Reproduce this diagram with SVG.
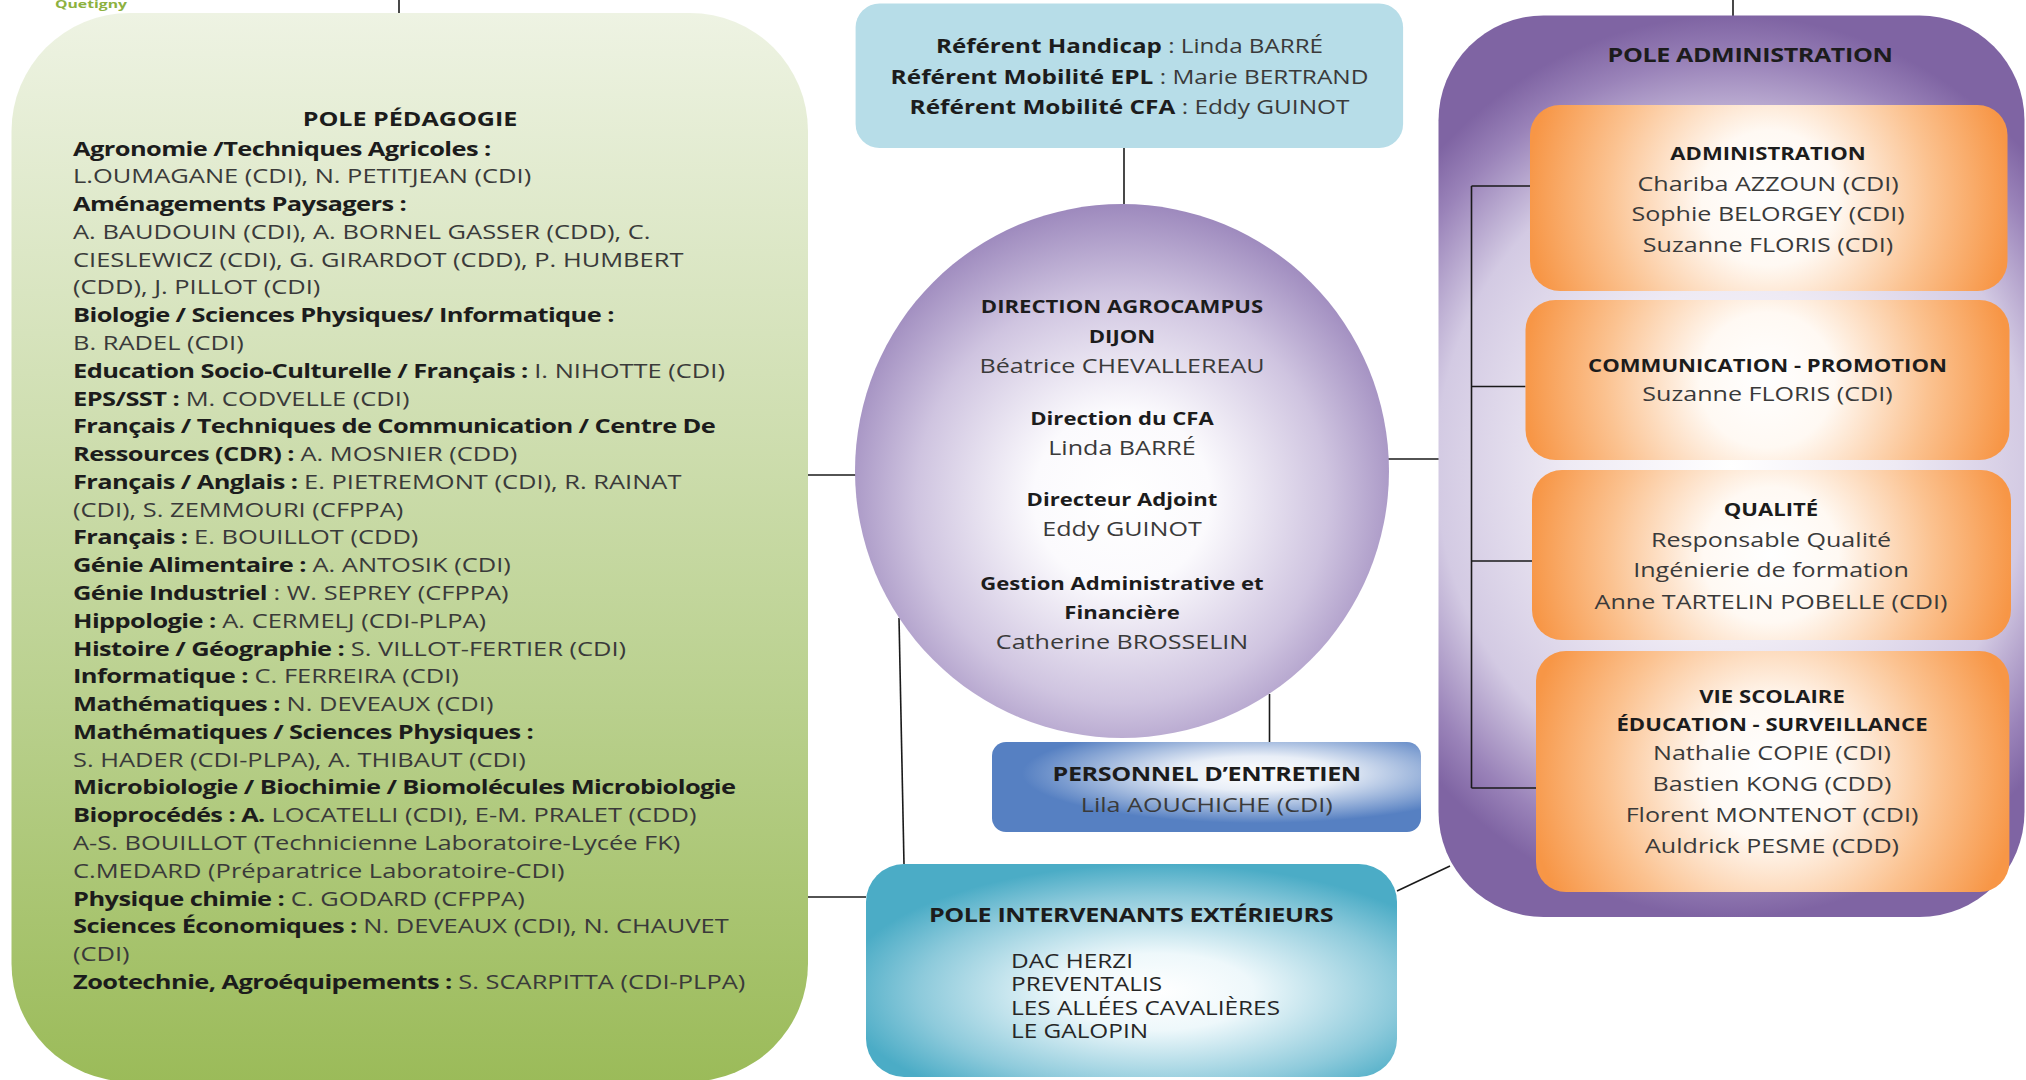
<svg xmlns="http://www.w3.org/2000/svg" width="2026" height="1080" viewBox="0 0 2026 1080">
<style>
.t{font-family:"Open Sans","Liberation Sans",sans-serif;font-size:19.3px;fill:#3a3a3a}
.b{font-weight:bold;fill:#1c1c1c}
.pb{letter-spacing:-0.45px}
.tt{letter-spacing:-0.3px}
.s{font-size:17px}
.c{text-anchor:middle}
.ln{stroke:#1a1a1a;stroke-width:1.6;fill:none}
</style>
<defs>
<linearGradient id="gGreen" x1="0" y1="0" x2="0" y2="1">
<stop offset="0" stop-color="#EEF3E3"/>
<stop offset="0.3" stop-color="#D6E3BC"/>
<stop offset="0.65" stop-color="#B9D08D"/>
<stop offset="1" stop-color="#9BBB59"/>
</linearGradient>
<radialGradient id="gCircle" cx="0.5" cy="0.55" r="0.55">
<stop offset="0" stop-color="#FFFFFF"/>
<stop offset="0.3" stop-color="#FBFAFD"/>
<stop offset="0.7" stop-color="#CFC4E0"/>
<stop offset="1" stop-color="#9D89BD"/>
</radialGradient>
<radialGradient id="gPurple" cx="0.5" cy="0.5" r="0.5" gradientTransform="translate(0.5,0.5) scale(1.4,1) translate(-0.5,-0.5)">
<stop offset="0" stop-color="#FFFFFF"/>
<stop offset="0.4" stop-color="#EEEAF4"/>
<stop offset="0.72" stop-color="#D3CAE3"/>
<stop offset="0.9" stop-color="#9A83B9"/>
<stop offset="1" stop-color="#7F64A3"/>
</radialGradient>
<radialGradient id="gTeal" cx="0.55" cy="0.6" r="0.6">
<stop offset="0" stop-color="#FFFFFF"/>
<stop offset="0.3" stop-color="#EEF8FB"/>
<stop offset="0.75" stop-color="#8DCADB"/>
<stop offset="1" stop-color="#4BACC6"/>
</radialGradient>
<radialGradient id="gBlue" cx="0.62" cy="0.35" r="0.55">
<stop offset="0" stop-color="#FFFFFF"/>
<stop offset="0.35" stop-color="#E8EEF7"/>
<stop offset="1" stop-color="#5680C2"/>
</radialGradient>
<radialGradient id="gO1" gradientUnits="userSpaceOnUse" cx="1769" cy="198" r="270">
<stop offset="0" stop-color="#FFFFFF"/><stop offset="0.25" stop-color="#FFF9F3"/><stop offset="0.6" stop-color="#FBC290"/><stop offset="0.9" stop-color="#F79646"/>
</radialGradient>
<radialGradient id="gO2" gradientUnits="userSpaceOnUse" cx="1767" cy="380" r="270">
<stop offset="0" stop-color="#FFFFFF"/><stop offset="0.25" stop-color="#FFF9F3"/><stop offset="0.6" stop-color="#FBC290"/><stop offset="0.9" stop-color="#F79646"/>
</radialGradient>
<radialGradient id="gO3" gradientUnits="userSpaceOnUse" cx="1771" cy="555" r="270">
<stop offset="0" stop-color="#FFFFFF"/><stop offset="0.25" stop-color="#FFF9F3"/><stop offset="0.6" stop-color="#FBC290"/><stop offset="0.9" stop-color="#F79646"/>
</radialGradient>
<radialGradient id="gO4" gradientUnits="userSpaceOnUse" cx="1772" cy="771" r="275">
<stop offset="0" stop-color="#FFFFFF"/><stop offset="0.25" stop-color="#FFF9F3"/><stop offset="0.6" stop-color="#FBC290"/><stop offset="0.9" stop-color="#F79646"/>
</radialGradient>
</defs>
<rect width="2026" height="1080" fill="#FFFFFF"/>

<g id="logo">
<text class="t b" transform="translate(55,8) scale(1.5,1)" style="font-size:10.5px;fill:#8DB13F">Quetigny</text>
</g>

<g id="connectors">
<path class="ln" d="M399,0 V15"/>
<path class="ln" d="M1733,0 V16"/>
<path class="ln" d="M1124,148 V204"/>
<path class="ln" d="M808,475 H856"/>
<path class="ln" d="M1388,459 H1439"/>
<path class="ln" d="M899,618 L904,864"/>
<path class="ln" d="M1269.5,694 V742"/>
<path class="ln" d="M808,897 H866"/>
<path class="ln" d="M1397,891 L1450,866"/>
</g>

<g id="pole-pedagogie">
<rect x="11.5" y="13" width="796.5" height="1068.5" rx="118" fill="url(#gGreen)"/>
<text class="t b c" transform="translate(410,126) scale(1.3,1)">POLE PÉDAGOGIE</text>
<text class="t b pb" transform="translate(73,155.5) scale(1.32,1)">Agronomie /Techniques Agricoles :</text>
<text class="t" transform="translate(73,183.3) scale(1.32,1)">L.OUMAGANE (CDI), N. PETITJEAN (CDI)</text>
<text class="t b pb" transform="translate(73,211.1) scale(1.32,1)">Aménagements Paysagers :</text>
<text class="t" transform="translate(73,238.8) scale(1.32,1)">A. BAUDOUIN (CDI), A. BORNEL GASSER (CDD), C.</text>
<text class="t" transform="translate(73,266.6) scale(1.32,1)">CIESLEWICZ (CDI), G. GIRARDOT (CDD), P. HUMBERT</text>
<text class="t" transform="translate(73,294.4) scale(1.32,1)">(CDD), J. PILLOT (CDI)</text>
<text class="t b pb" transform="translate(73,322.2) scale(1.32,1)">Biologie / Sciences Physiques/ Informatique :</text>
<text class="t" transform="translate(73,349.9) scale(1.32,1)">B. RADEL (CDI)</text>
<text class="t" transform="translate(73,377.7) scale(1.32,1)"><tspan class="b pb">Education Socio-Culturelle / Français :</tspan> I. NIHOTTE (CDI)</text>
<text class="t" transform="translate(73,405.5) scale(1.32,1)"><tspan class="b pb">EPS/SST :</tspan> M. CODVELLE (CDI)</text>
<text class="t b pb" transform="translate(73,433.3) scale(1.32,1)">Français / Techniques de Communication / Centre De</text>
<text class="t" transform="translate(73,461.1) scale(1.32,1)"><tspan class="b pb">Ressources (CDR) :</tspan> A. MOSNIER (CDD)</text>
<text class="t" transform="translate(73,488.9) scale(1.32,1)"><tspan class="b pb">Français / Anglais :</tspan> E. PIETREMONT (CDI), R. RAINAT</text>
<text class="t" transform="translate(73,516.6) scale(1.32,1)">(CDI), S. ZEMMOURI (CFPPA)</text>
<text class="t" transform="translate(73,544.4) scale(1.32,1)"><tspan class="b pb">Français :</tspan> E. BOUILLOT (CDD)</text>
<text class="t" transform="translate(73,572.2) scale(1.32,1)"><tspan class="b pb">Génie Alimentaire :</tspan> A. ANTOSIK (CDI)</text>
<text class="t" transform="translate(73,600) scale(1.32,1)"><tspan class="b pb">Génie Industriel</tspan> : W. SEPREY (CFPPA)</text>
<text class="t" transform="translate(73,627.8) scale(1.32,1)"><tspan class="b pb">Hippologie :</tspan> A. CERMELJ (CDI-PLPA)</text>
<text class="t" transform="translate(73,655.5) scale(1.32,1)"><tspan class="b pb">Histoire / Géographie :</tspan> S. VILLOT-FERTIER (CDI)</text>
<text class="t" transform="translate(73,683.3) scale(1.32,1)"><tspan class="b pb">Informatique :</tspan> C. FERREIRA (CDI)</text>
<text class="t" transform="translate(73,711.1) scale(1.32,1)"><tspan class="b pb">Mathématiques :</tspan> N. DEVEAUX (CDI)</text>
<text class="t b pb" transform="translate(73,738.9) scale(1.32,1)">Mathématiques / Sciences Physiques :</text>
<text class="t" transform="translate(73,766.7) scale(1.32,1)">S. HADER (CDI-PLPA), A. THIBAUT (CDI)</text>
<text class="t b pb" transform="translate(73,794.4) scale(1.32,1)">Microbiologie / Biochimie / Biomolécules Microbiologie</text>
<text class="t" transform="translate(73,822.2) scale(1.32,1)"><tspan class="b pb">Bioprocédés : A.</tspan> LOCATELLI (CDI), E-M. PRALET (CDD)</text>
<text class="t" transform="translate(73,850) scale(1.32,1)">A-S. BOUILLOT (Technicienne Laboratoire-Lycée FK)</text>
<text class="t" transform="translate(73,877.8) scale(1.32,1)">C.MEDARD (Préparatrice Laboratoire-CDI)</text>
<text class="t" transform="translate(73,905.6) scale(1.32,1)"><tspan class="b pb">Physique chimie :</tspan> C. GODARD (CFPPA)</text>
<text class="t" transform="translate(73,933.3) scale(1.32,1)"><tspan class="b pb">Sciences Économiques :</tspan> N. DEVEAUX (CDI), N. CHAUVET</text>
<text class="t" transform="translate(73,961.1) scale(1.32,1)">(CDI)</text>
<text class="t" transform="translate(73,988.9) scale(1.32,1)"><tspan class="b pb">Zootechnie, Agroéquipements :</tspan> S. SCARPITTA (CDI-PLPA)</text>
</g>

<g id="referents">
<rect x="855.6" y="3.5" width="547.5" height="144.5" rx="24" fill="#B7DDE8"/>
<text class="t c" style="font-size:20px" transform="translate(1129.5,53.4) scale(1.21,1)"><tspan class="b">Référent Handicap</tspan> : Linda BARRÉ</text>
<text class="t c" style="font-size:20px" transform="translate(1129.5,84.4) scale(1.22,1)"><tspan class="b">Référent Mobilité EPL</tspan> : Marie BERTRAND</text>
<text class="t c" style="font-size:20px" transform="translate(1129.5,113.7) scale(1.22,1)"><tspan class="b">Référent Mobilité CFA</tspan> : Eddy GUINOT</text>
</g>

<g id="direction">
<circle cx="1122" cy="471" r="267" fill="url(#gCircle)"/>
<text class="t b c s" transform="translate(1122,313.4) scale(1.3,1)">DIRECTION AGROCAMPUS</text>
<text class="t b c s" transform="translate(1122,342.7) scale(1.3,1)">DIJON</text>
<text class="t c" transform="translate(1122,373) scale(1.3,1)">Béatrice CHEVALLEREAU</text>
<text class="t b c s" transform="translate(1122,425.3) scale(1.3,1)">Direction du CFA</text>
<text class="t c" transform="translate(1122,454.6) scale(1.3,1)">Linda BARRÉ</text>
<text class="t b c s" transform="translate(1122,506.3) scale(1.3,1)">Directeur Adjoint</text>
<text class="t c" transform="translate(1122,536) scale(1.3,1)">Eddy GUINOT</text>
<text class="t b c s" transform="translate(1122,590) scale(1.3,1)">Gestion Administrative et</text>
<text class="t b c s" transform="translate(1122,618.5) scale(1.3,1)">Financière</text>
<text class="t c" transform="translate(1122,648.5) scale(1.3,1)">Catherine BROSSELIN</text>
</g>

<g id="personnel-entretien">
<rect x="992" y="742" width="429" height="90" rx="14" fill="url(#gBlue)"/>
<text class="t b c tt" transform="translate(1206.7,781) scale(1.3,1)">PERSONNEL D’ENTRETIEN</text>
<text class="t c" transform="translate(1206.7,812) scale(1.3,1)">Lila AOUCHICHE (CDI)</text>
</g>

<g id="pole-intervenants">
<rect x="866" y="864" width="531" height="213" rx="38" fill="url(#gTeal)"/>
<text class="t b c tt" transform="translate(1131,921.6) scale(1.3,1)">POLE INTERVENANTS EXTÉRIEURS</text>
<text class="t" style="font-size:20.3px;fill:#262626" transform="translate(1011,967.7) scale(1.2,1)">DAC HERZI</text>
<text class="t" style="font-size:20.3px;fill:#262626" transform="translate(1011,991) scale(1.2,1)">PREVENTALIS</text>
<text class="t" style="font-size:20.3px;fill:#262626" transform="translate(1011,1014.6) scale(1.2,1)">LES ALLÉES CAVALIÈRES</text>
<text class="t" style="font-size:20.3px;fill:#262626" transform="translate(1011,1037.7) scale(1.2,1)">LE GALOPIN</text>
</g>

<g id="pole-administration">
<rect x="1438.5" y="15.5" width="586" height="901.5" rx="105" fill="url(#gPurple)"/>
<text class="t b c tt" transform="translate(1750,62) scale(1.3,1)">POLE ADMINISTRATION</text>
<g id="admin-connectors">
<path class="ln" d="M1471.5,186 V788 M1471.5,186 H1530 M1471.5,386.5 H1525.5 M1471.5,561 H1532 M1471.5,788 H1536"/>
</g>
<g id="administration">
<rect x="1530" y="105" width="477.5" height="186" rx="30" fill="url(#gO1)"/>
<text class="t b c s" transform="translate(1768,160) scale(1.3,1)">ADMINISTRATION</text>
<text class="t c" transform="translate(1768,190.5) scale(1.3,1)">Chariba AZZOUN (CDI)</text>
<text class="t c" transform="translate(1768,221) scale(1.3,1)">Sophie BELORGEY (CDI)</text>
<text class="t c" transform="translate(1768,251.5) scale(1.3,1)">Suzanne FLORIS (CDI)</text>
</g>
<g id="communication">
<rect x="1525.5" y="300" width="484" height="160" rx="30" fill="url(#gO2)"/>
<text class="t b c s" transform="translate(1767.5,372) scale(1.3,1)">COMMUNICATION - PROMOTION</text>
<text class="t c" transform="translate(1767.5,401) scale(1.3,1)">Suzanne FLORIS (CDI)</text>
</g>
<g id="qualite">
<rect x="1532" y="470" width="479" height="170" rx="30" fill="url(#gO3)"/>
<text class="t b c s" transform="translate(1771,516) scale(1.3,1)">QUALITÉ</text>
<text class="t c" transform="translate(1771,546.5) scale(1.3,1)">Responsable Qualité</text>
<text class="t c" transform="translate(1771,577) scale(1.3,1)">Ingénierie de formation</text>
<text class="t c" transform="translate(1771,609) scale(1.3,1)">Anne TARTELIN POBELLE (CDI)</text>
</g>
<g id="vie-scolaire">
<rect x="1536" y="651" width="473.4" height="241" rx="30" fill="url(#gO4)"/>
<text class="t b c s" transform="translate(1772,702.6) scale(1.3,1)">VIE SCOLAIRE</text>
<text class="t b c s" transform="translate(1772,730.5) scale(1.3,1)">ÉDUCATION - SURVEILLANCE</text>
<text class="t c" transform="translate(1772,760.4) scale(1.3,1)">Nathalie COPIE (CDI)</text>
<text class="t c" transform="translate(1772,791.4) scale(1.3,1)">Bastien KONG (CDD)</text>
<text class="t c" transform="translate(1772,822.4) scale(1.3,1)">Florent MONTENOT (CDI)</text>
<text class="t c" transform="translate(1772,853.4) scale(1.3,1)">Auldrick PESME (CDD)</text>
</g>
</g>
</svg>
